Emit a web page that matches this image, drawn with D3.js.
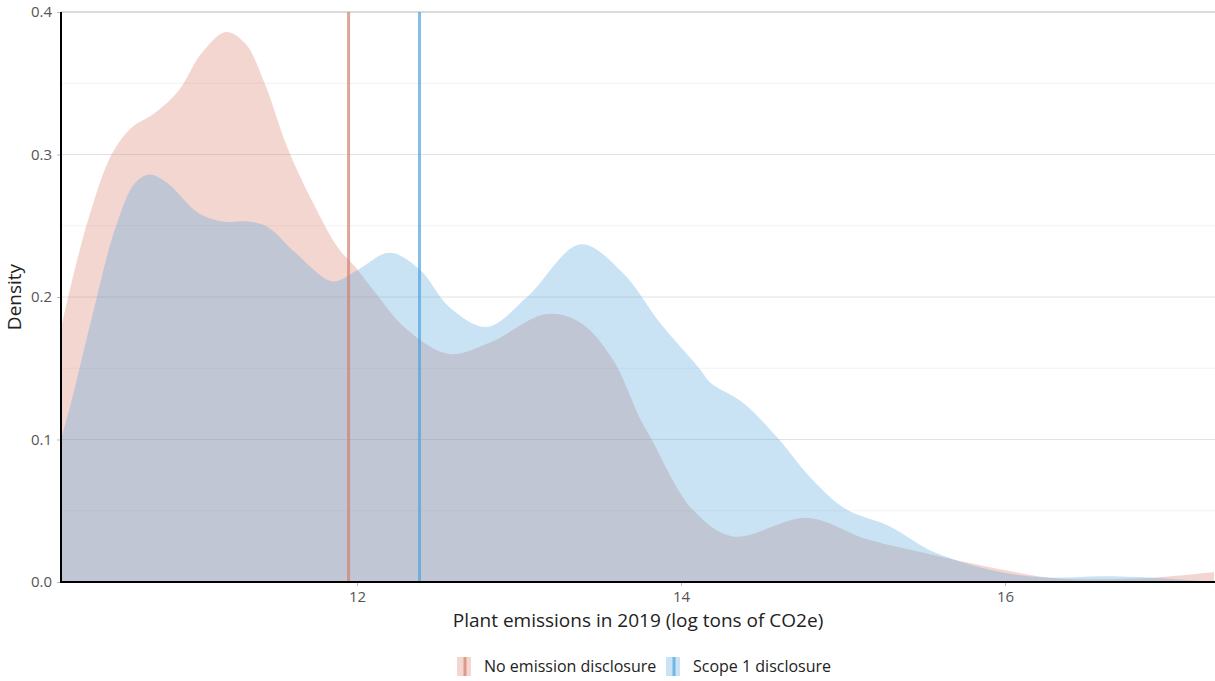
<!DOCTYPE html>
<html lang="en">
<head>
    <meta charset="UTF-8">
    <title>Plant emissions density</title>
    <script src="https://d3js.org/d3.v7.min.js"></script>
    <style>
        body { margin: 0; background: #fff; }
        .tick text { font-family: "Open Sans", sans-serif; font-size: 15px; fill: #555; }
        .axis-title { font-family: "Open Sans", sans-serif; font-size: 19px; fill: #222; }
        .legend text { font-family: "Open Sans", sans-serif; font-size: 16px; fill: #222; }
    </style>
</head>
<body>
    <svg id="chart"></svg>
    <script>
        // Density curves (x = log tons CO2e, y = density)
        var noDiscX = [10.173, 10.185, 10.34, 10.49, 10.61, 10.75, 10.90, 11.04, 11.19, 11.31, 11.43, 11.57, 11.72, 11.88, 11.99, 12.10, 12.31, 12.57, 12.82, 13.17, 13.38, 13.58, 13.75, 13.81, 14.07, 14.32, 14.78, 15.15, 15.56, 15.97, 16.28, 16.59, 16.91, 17.29];
        var noDiscY = [0.177, 0.184, 0.254, 0.301, 0.319, 0.329, 0.345, 0.371, 0.386, 0.378, 0.350, 0.305, 0.268, 0.235, 0.221, 0.205, 0.177, 0.160, 0.168, 0.188, 0.182, 0.156, 0.114, 0.102, 0.051, 0.032, 0.045, 0.030, 0.019, 0.009, 0.003, 0.002, 0.003, 0.007];

        var scope1X = [10.173, 10.24, 10.36, 10.51, 10.63, 10.72, 10.83, 11.02, 11.17, 11.33, 11.45, 11.62, 11.85, 11.99, 12.20, 12.39, 12.57, 12.80, 13.05, 13.38, 13.64, 13.87, 14.12, 14.18, 14.38, 14.59, 14.81, 15.02, 15.29, 15.56, 15.97, 16.28, 16.59, 16.91, 17.29];
        var scope1Y = [0.100, 0.128, 0.184, 0.249, 0.280, 0.286, 0.280, 0.259, 0.253, 0.253, 0.249, 0.231, 0.211, 0.218, 0.231, 0.219, 0.193, 0.179, 0.200, 0.237, 0.217, 0.182, 0.149, 0.140, 0.126, 0.102, 0.072, 0.051, 0.039, 0.021, 0.007, 0.003, 0.004, 0.003, 0.000];

        var groups = ["No emission disclosure", "Scope 1 disclosure"];
        var means = [11.948, 12.386];
        var xTicks = [12, 14, 16];
        var yTicks = [0.0, 0.1, 0.2, 0.3, 0.4];
        var yMinor = [0.05, 0.15, 0.25, 0.35];

        var fills = ["#da7662", "#4ba2de"];
        var lines = ["#d0806f", "#4ba2de"];

        var W = 1215, H = 681;
        var margin = { top: 12, right: 0, bottom: 99, left: 61 };
        var width = W - margin.left - margin.right;
        var height = H - margin.top - margin.bottom;

        var svg = d3.select("#chart").attr("width", W).attr("height", H);
        var g = svg.append("g").attr("transform", "translate(" + margin.left + "," + margin.top + ")");

        var x = d3.scaleLinear().domain([10.173, 17.296]).range([0, width]);
        var y = d3.scaleLinear().domain([0, 0.4]).range([height, 0]);

        // gridlines
        g.selectAll(".minor").data(yMinor).enter().append("line")
            .attr("x1", 0).attr("x2", width)
            .attr("y1", d => y(d)).attr("y2", d => y(d))
            .attr("stroke", "#f2f2f2").attr("stroke-width", 1);
        g.selectAll(".major").data(yTicks.slice(1)).enter().append("line")
            .attr("x1", 0).attr("x2", width)
            .attr("y1", d => y(d)).attr("y2", d => y(d))
            .attr("stroke", d => d === 0.4 ? "#cfcfcf" : "#e2e2e2")
            .attr("stroke-width", d => d === 0.4 ? 1.5 : 1);

        // density areas
        var series = [
            d3.zip(noDiscX, noDiscY),
            d3.zip(scope1X, scope1Y)
        ];
        var area = d3.area()
            .x(d => x(d[0]))
            .y0(y(0))
            .y1(d => y(Math.max(0, d[1])))
            .curve(d3.curveCatmullRom.alpha(0.5));

        g.selectAll(".dens").data(series).enter().append("path")
            .attr("d", area)
            .attr("fill", (d, i) => fills[i])
            .attr("fill-opacity", 0.3);

        // mean lines
        g.selectAll(".mean").data(means).enter().append("line")
            .attr("x1", d => x(d)).attr("x2", d => x(d))
            .attr("y1", 0).attr("y2", height)
            .attr("stroke", (d, i) => lines[i])
            .attr("stroke-opacity", 0.7)
            .attr("stroke-width", 3);

        // axes
        var xAxis = g.append("g")
            .attr("transform", "translate(0," + height + ")")
            .call(d3.axisBottom(x).tickValues(xTicks).tickSize(4).tickPadding(5).tickFormat(d3.format("d")));
        xAxis.select(".domain").remove();
        xAxis.selectAll(".tick line").attr("stroke", "#bbb");

        var yAxis = g.append("g")
            .call(d3.axisLeft(y).tickValues(yTicks).tickSize(4).tickPadding(5).tickFormat(d3.format(".1f")));
        yAxis.select(".domain").remove();
        yAxis.selectAll(".tick line").attr("stroke", "#bbb");

        g.append("line").attr("x1", 0).attr("x2", 0).attr("y1", 0).attr("y2", height + 1)
            .attr("stroke", "#000").attr("stroke-width", 2);
        g.append("line").attr("x1", -1).attr("x2", width).attr("y1", height).attr("y2", height)
            .attr("stroke", "#000").attr("stroke-width", 2);

        // axis titles
        svg.append("text").attr("class", "axis-title")
            .attr("x", 638).attr("y", 627)
            .attr("text-anchor", "middle")
            .text("Plant emissions in 2019 (log tons of CO2e)");
        svg.append("text").attr("class", "axis-title")
            .attr("transform", "translate(21," + (margin.top + height / 2) + ") rotate(-90)")
            .attr("text-anchor", "middle")
            .text("Density");

        // legend
        var legend = svg.append("g").attr("class", "legend");
        var legX = [457, 666];
        groups.forEach(function(name, i) {
            var lg = legend.append("g").attr("transform", "translate(" + legX[i] + ",657)");
            lg.append("rect").attr("width", 14).attr("height", 19)
                .attr("fill", fills[i]).attr("fill-opacity", 0.3);
            lg.append("line").attr("x1", 8).attr("x2", 8).attr("y1", 0).attr("y2", 19)
                .attr("stroke", lines[i]).attr("stroke-opacity", 0.7).attr("stroke-width", 3);
            lg.append("text").attr("x", 27).attr("y", 15).text(name);
        });
    </script>
</body>
</html>
